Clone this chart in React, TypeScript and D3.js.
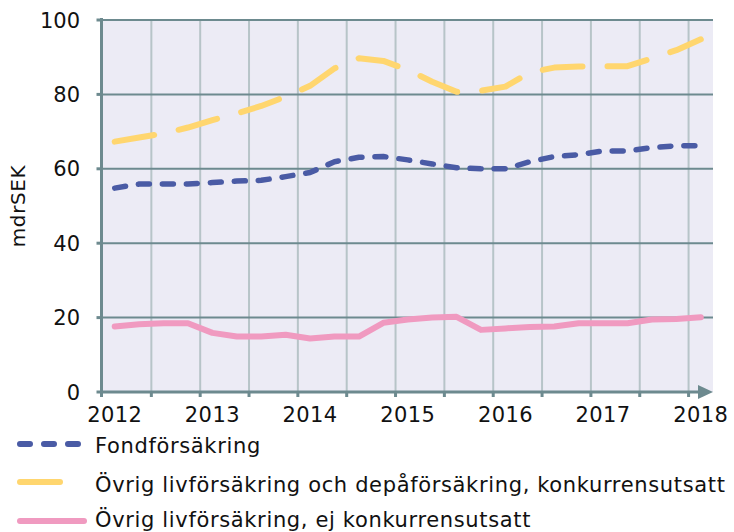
import React from "react";
import * as d3 from "d3";

const periods = [
  "2012K1","2012K2","2012K3","2012K4",
  "2013K1","2013K2","2013K3","2013K4",
  "2014K1","2014K2","2014K3","2014K4",
  "2015K1","2015K2","2015K3","2015K4",
  "2016K1","2016K2","2016K3","2016K4",
  "2017K1","2017K2","2017K3","2017K4",
  "2018K1",
];
const yearLabels = ["2012", "2013", "2014", "2015", "2016", "2017", "2018"];
const yTicks = [0, 20, 40, 60, 80, 100];

const fondforsakring = [
  54.8, 55.9, 55.9, 55.9, 56.3, 56.7, 56.9, 57.9, 59.0, 61.9, 63.1, 63.3, 62.4,
  61.3, 60.3, 60.0, 60.0, 61.9, 63.3, 63.8, 64.8, 64.8, 65.7, 66.2, 66.2,
];
const ovrigKonkurrens = [
  67.3, 68.4, 69.5, 71.1, 73.1, 74.9, 76.9, 79.4, 82.3, 87.0, 89.7, 89.0, 86.6,
  83.4, 80.7, 81.0, 82.1, 85.9, 87.2, 87.5, 87.6, 87.6, 89.7, 91.9, 94.8,
];
const ovrigEjKonkurrens = [
  17.6, 18.2, 18.5, 18.5, 15.9, 14.9, 14.9, 15.4, 14.4, 14.9, 14.9, 18.6, 19.5,
  20.0, 20.2, 16.7, 17.1, 17.5, 17.6, 18.5, 18.5, 18.5, 19.5, 19.6, 20.1,
];

const seriesNames = [
  "Fondförsäkring",
  "Övrig livförsäkring och depåförsäkring, konkurrensutsatt",
  "Övrig livförsäkring, ej konkurrensutsatt",
];

const FONT = "'DejaVu Sans', Verdana, sans-serif";
const AXIS = "#6d8a8f";
const VGRID = "#b7c4c8";
const BG = "#ecebf5";
const BLUE = "#4a5ba5";
const YELLOW = "#ffd66f";
const PINK = "#f09ac0";

export default function App() {
  const left = 102.5;
  const right = 713;
  const top = 20;
  const bottom = 392;

  const x = d3.scaleLinear().domain([0, periods.length]).range([left, right]);
  const y = d3.scaleLinear().domain([0, 100]).range([bottom, top]);
  const px = (i: number) => x(i + 0.5);

  const line = d3
    .line<number>()
    .x((_, i) => px(i))
    .y((d) => y(d));

  const gridIdx = d3.range(2, periods.length + 1, 2);
  const labelIdx = d3.range(0, periods.length, 4);

  const series = [
    { data: ovrigEjKonkurrens, color: PINK, dash: "none", width: 6 },
    { data: fondforsakring, color: BLUE, dash: "11 13", width: 5.5 },
    { data: ovrigKonkurrens, color: YELLOW, dash: "40 25", width: 6 },
  ];

  const legend = [
    { name: seriesNames[0], color: BLUE, dash: "10 14", x2: 79, ly: 444, ty: 453 },
    { name: seriesNames[1], color: YELLOW, dash: "40 25", x2: 60, ly: 482, ty: 492 },
    { name: seriesNames[2], color: PINK, dash: "none", x2: 84, ly: 521, ty: 527 },
  ];

  return (
    <svg
      width={734}
      height={532}
      style={{ position: "absolute", left: 0, top: 0 }}
      fontFamily={FONT}
    >
      <rect x={left} y={top} width={right - left} height={bottom - top} fill={BG} />
      {gridIdx.map((g) => (
        <line key={"v" + g} x1={x(g)} x2={x(g)} y1={top} y2={bottom} stroke={VGRID} strokeWidth={2} />
      ))}
      {yTicks.slice(1).map((t) => (
        <line key={"h" + t} x1={left} x2={right} y1={y(t)} y2={y(t)} stroke={AXIS} strokeWidth={2} />
      ))}
      {/* y axis */}
      <line x1={left - 1} x2={left - 1} y1={top - 2} y2={bottom + 5} stroke={AXIS} strokeWidth={3} />
      {yTicks.map((t) => (
        <g key={"yt" + t}>
          <line x1={left - 6} x2={left - 1} y1={y(t)} y2={y(t)} stroke={AXIS} strokeWidth={3} />
          <text x={80} y={y(t)} dy="0.36em" textAnchor="end" fontSize={21} fill="#111">
            {t}
          </text>
        </g>
      ))}
      {/* x axis */}
      <line x1={left - 2} x2={right - 12} y1={bottom} y2={bottom} stroke={AXIS} strokeWidth={3} />
      <path
        d={`M${right - 15},${bottom - 7} L${right},${bottom} L${right - 15},${bottom + 7} Z`}
        fill={AXIS}
      />
      {gridIdx.map((g) => (
        <line key={"xt" + g} x1={x(g)} x2={x(g)} y1={bottom} y2={bottom + 5} stroke={AXIS} strokeWidth={3} />
      ))}
      {labelIdx.map((i, k) => (
        <text key={"xl" + i} x={px(i)} y={422} textAnchor="middle" fontSize={21} letterSpacing={0.4} fill="#111">
          {yearLabels[k]}
        </text>
      ))}
      <text
        transform="translate(25,206) rotate(-90)"
        textAnchor="middle"
        fontSize={20}
        letterSpacing={0.6}
        fill="#111"
      >
        mdrSEK
      </text>
      {series.map((s, k) => (
        <path
          key={"s" + k}
          d={line(s.data) || ""}
          fill="none"
          stroke={s.color}
          strokeWidth={s.width}
          strokeDasharray={s.dash}
          strokeLinecap="round"
          strokeLinejoin="round"
        />
      ))}
      {legend.map((l, k) => (
        <g key={"lg" + k}>
          <line
            x1={20}
            x2={l.x2}
            y1={l.ly}
            y2={l.ly}
            stroke={l.color}
            strokeWidth={6}
            strokeDasharray={l.dash}
            strokeLinecap="round"
          />
          <text x={95} y={l.ty} fontSize={21} letterSpacing={0.65} fill="#111">
            {l.name}
          </text>
        </g>
      ))}
    </svg>
  );
}
